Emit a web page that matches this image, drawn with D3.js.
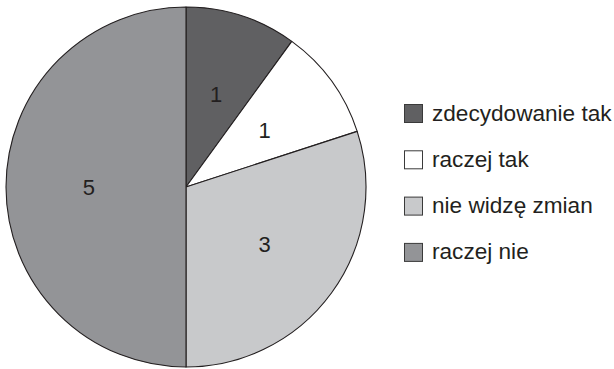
<!DOCTYPE html>
<html>
<head>
<meta charset="utf-8">
<script src="https://cdn.jsdelivr.net/npm/d3@7"></script>
<style>
  html, body { margin: 0; padding: 0; background: #ffffff; }
  svg { display: block; }
  text { font-family: "Liberation Sans", Arial, Helvetica, sans-serif; fill: #231f20; }
</style>
</head>
<body>
<svg id="chart" width="614" height="369"></svg>
<script>
// Survey answers and their counts
const categories = ["zdecydowanie tak", "raczej tak", "nie widzę zmian", "raczej nie"];
const counts = [1, 1, 3, 5];
const fills = ["#606062", "#ffffff", "#c8c9cb", "#939497"];

const svg = d3.select("#chart");
const cx = 186, cy = 187, R = 180;

const data = categories.map((c, i) => ({ category: c, count: counts[i], fill: fills[i] }));

const pie = d3.pie()
  .value(d => d.count)
  .sort(null)
  .startAngle(0)
  .endAngle(2 * Math.PI);

const arc = d3.arc().innerRadius(0).outerRadius(R);
const labelArc = d3.arc().innerRadius(R * 0.54).outerRadius(R * 0.54);

const g = svg.append("g").attr("transform", `translate(${cx},${cy})`);

const arcs = pie(data);

g.selectAll("path.slice")
  .data(arcs)
  .join("path")
  .attr("class", "slice")
  .attr("d", arc)
  .attr("fill", d => d.data.fill)
  .attr("stroke", "#231f20")
  .attr("stroke-width", 1.1)
  .attr("stroke-linejoin", "round");

g.selectAll("text.value")
  .data(arcs)
  .join("text")
  .attr("class", "value")
  .attr("transform", d => `translate(${labelArc.centroid(d)})`)
  .attr("text-anchor", "middle")
  .attr("dy", "0.36em")
  .style("font-size", "22px")
  .text(d => d.data.count);

// Legend
const legend = svg.append("g").attr("transform", "translate(404,104)");
const rowStep = 46.3, box = 18;

const rows = legend.selectAll("g.row")
  .data(data)
  .join("g")
  .attr("class", "row")
  .attr("transform", (d, i) => `translate(0,${i * rowStep})`);

rows.append("rect")
  .attr("x", 0.5)
  .attr("y", 0.5)
  .attr("width", box)
  .attr("height", box)
  .attr("fill", d => d.fill)
  .attr("stroke", "#3a3a3a")
  .attr("stroke-width", 1);

rows.append("text")
  .attr("x", 28)
  .attr("y", 16.5)
  .style("font-size", "22.6px")
  .text(d => d.category);
</script>
</body>
</html>
